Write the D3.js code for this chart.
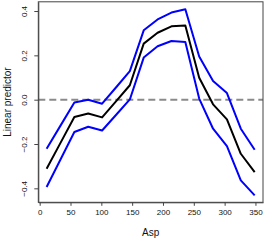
<!DOCTYPE html>
<html>
<head>
<meta charset="utf-8">
<script src="https://cdn.jsdelivr.net/npm/d3@7"></script>
<style>
  body { margin: 0; background: #fff; }
  svg text { font-family: "Liberation Sans", Arial, sans-serif; fill: #111; }
</style>
</head>
<body>
<div id="chart"></div>
<script>
// aspect sector midpoints (degrees)
const asp = [11.25, 33.75, 56.25, 78.75, 101.25, 123.75, 146.25, 168.75,
             191.25, 213.75, 236.25, 258.75, 281.25, 303.75, 326.25, 348.75];
// fitted linear predictor
const fit = [-0.312, -0.195, -0.078, -0.062, -0.080, -0.008, 0.065, 0.253,
             0.302, 0.331, 0.335, 0.099, -0.021, -0.089, -0.244, -0.327];
// upper and lower bands
const upper = [-0.221, -0.117, -0.013, 0.000, -0.018, 0.055, 0.129, 0.313,
               0.362, 0.393, 0.408, 0.195, 0.084, 0.030, -0.131, -0.226];
const lower = [-0.394, -0.270, -0.146, -0.122, -0.139, -0.069, 0.001, 0.190,
               0.241, 0.265, 0.260, 0.005, -0.131, -0.209, -0.364, -0.432];
const xTicks = [0, 50, 100, 150, 200, 250, 300, 350];
const yTicks = [-0.4, -0.2, 0.0, 0.2, 0.4];

const width = 266, height = 240;

const svg = d3.select("#chart")
    .append("svg")
    .attr("width", width)
    .attr("height", height);

const x = d3.scaleLinear()
    .domain([-2.25, 362.25])
    .range([38.3, 263]);

const y = d3.scaleLinear()
    .domain([-0.463, 0.4416])
    .range([202.3, 1.8]);

const [x0, x1] = x.range();
const [y0, y1] = y.range();

svg.append("clipPath").attr("id", "clip")
    .append("rect")
    .attr("x", x0).attr("y", y1)
    .attr("width", x1 - x0).attr("height", y0 - y1);

const plot = svg.append("g").attr("clip-path", "url(#clip)");

// reference line at zero
plot.append("line")
    .attr("x1", x0).attr("x2", x1)
    .attr("y1", y(0)).attr("y2", y(0))
    .attr("stroke", "#8a8a8a")
    .attr("stroke-width", 2)
    .attr("stroke-dasharray", "7,4");

const line = d3.line()
    .x((d, i) => x(asp[i]))
    .y(d => y(d));

[[upper, "#0000ff"], [lower, "#0000ff"], [fit, "#000"]].forEach(([s, c]) => {
    plot.append("path")
        .datum(s)
        .attr("fill", "none")
        .attr("stroke", c)
        .attr("stroke-width", 2)
        .attr("stroke-linejoin", "round")
        .attr("d", line);
});

// box
svg.append("rect")
    .attr("x", x0).attr("y", y1)
    .attr("width", x1 - x0).attr("height", y0 - y1)
    .attr("fill", "none")
    .attr("stroke", "#444")
    .attr("stroke-width", 1);

// axes
const xAxis = svg.append("g")
    .attr("transform", `translate(0, ${y0})`)
    .call(d3.axisBottom(x).tickValues(xTicks).tickFormat(d3.format("d")).tickSize(3.5).tickSizeOuter(0).tickPadding(4));

const yAxis = svg.append("g")
    .attr("transform", `translate(${x0}, 0)`)
    .call(d3.axisLeft(y).tickValues(yTicks).tickFormat(d3.format(".1f")).tickSize(4).tickSizeOuter(0).tickPadding(3));

[xAxis, yAxis].forEach(g => {
    g.select(".domain").attr("stroke", "#444");
    g.selectAll(".tick line").attr("stroke", "#444");
    g.selectAll(".tick text").style("font-size", "8px").attr("fill", "#222");
});

// rotate y tick labels like R
yAxis.selectAll(".tick text")
    .attr("transform", "rotate(-90)")
    .attr("x", 0).attr("y", -14)
    .attr("dy", "0.32em")
    .style("text-anchor", "middle");

svg.append("text")
    .attr("x", (x0 + x1) / 2)
    .attr("y", 236)
    .style("text-anchor", "middle")
    .style("font-size", "10px")
    .text("Asp");

svg.append("text")
    .attr("transform", "rotate(-90)")
    .attr("x", -(y0 + y1) / 2)
    .attr("y", 11)
    .style("text-anchor", "middle")
    .style("font-size", "10px")
    .text("Linear predictor");
</script>
</body>
</html>
